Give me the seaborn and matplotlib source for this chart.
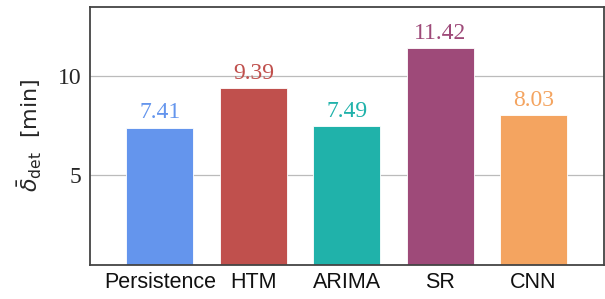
import matplotlib
matplotlib.use("Agg")
import matplotlib.pyplot as plt
import seaborn as sns
import pandas as pd

categories = ["Persistence", "HTM", "ARIMA", "SR", "CNN"]
values = [7.41, 9.39, 7.49, 11.42, 8.03]
colors = ["#6495ED", "#C0504D", "#20B2AA", "#9E4A79", "#F4A460"]
yticks = [5, 10]

sns.set_theme(style="white")
plt.rcParams["mathtext.fontset"] = "dejavusans"

df = pd.DataFrame({"model": categories, "value": values})

fig = plt.figure(figsize=(6.05, 2.99), dpi=100)
ax = fig.add_axes([0.1483, 0.1147, 0.8495, 0.863])

sns.barplot(data=df, x="model", y="value", hue="model", palette=colors,
            width=0.72, legend=False, ax=ax, saturation=1,
            edgecolor="white", linewidth=0.6)

ax.set_xlim(-0.75, 4.75)
ax.set_ylim(0.5, 13.5)
ax.set_yticks(yticks)
ax.set_yticklabels([str(t) for t in yticks], family="Liberation Serif", fontsize=17)
ax.yaxis.grid(True, color="#bbbbbb", linewidth=0.9)
ax.set_axisbelow(True)
ax.tick_params(axis="both", length=0)
ax.tick_params(axis="y", pad=6)
ax.tick_params(axis="x", pad=5)
for lbl in ax.get_xticklabels():
    lbl.set_family("Liberation Sans")
    lbl.set_fontsize(15.5)
    lbl.set_color("#111111")

for container, c in zip(ax.containers, colors):
    ax.bar_label(container, fmt="%.2f", padding=3, color=c,
                 family="Liberation Serif", fontsize=17)

for s in ax.spines.values():
    s.set_visible(True)
    s.set_color("#444444")
    s.set_linewidth(1.3)

ax.set_xlabel("")
ax.set_ylabel(r"$\bar{\delta}_{\mathsf{det}}$  [min]", fontsize=16, labelpad=10)

fig.savefig("out.png", dpi=100)
